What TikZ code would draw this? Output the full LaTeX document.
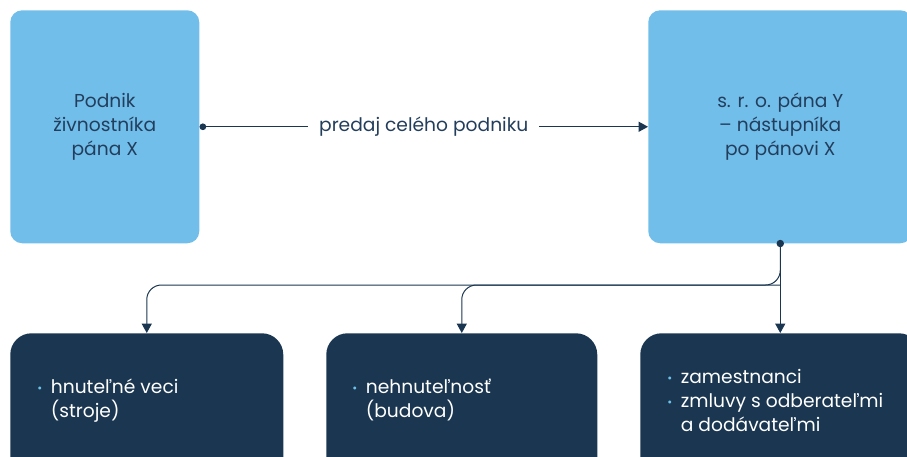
\documentclass[tikz,border=0pt]{standalone}
\usepackage{fontspec}
\setmainfont{Poppins}
\usetikzlibrary{arrows.meta,calc}
\definecolor{lblue}{HTML}{71BEEA}
\definecolor{navy}{HTML}{1A3650}
\definecolor{tnavy}{HTML}{233E5C}
\definecolor{bul}{HTML}{6EC1EA}
\tikzset{
  lbox/.style={draw=none,fill=lblue,rounded corners=9pt,anchor=north west,inner sep=0pt,
    text=tnavy,align=center,font=\fontsize{14}{18}\selectfont},
  dbox/.style={draw=none,fill=navy,rounded corners=16pt,anchor=north west,inner sep=0pt},
  btxt/.style={text=white,anchor=north west,inner sep=0pt,font=\fontsize{14}{18}\selectfont},
  conn/.style={draw=navy,line width=0.75pt},
  tip/.style={-{Triangle[width=7.5pt,length=7pt]}},
}
\newcommand{\bl}{\raisebox{0.6pt}{\textcolor{bul}{\small\textbullet}}}
\begin{document}
\begin{tikzpicture}[x=0.75pt,y=-0.75pt]
\useasboundingbox (0,0) rectangle (907,457);
\clip (0,0) rectangle (907,457);
% top boxes
\node[lbox,minimum width={189*0.75pt},minimum height={233*0.75pt}] (L) at (10,10)
  {Podnik\\živnostníka\\pána X};
\node[lbox,minimum width={264*0.75pt},minimum height={233*0.75pt}] (R) at (648,10)
  {s. r. o. pána Y\\– nástupníka\\po pánovi X};
% bottom boxes
\node[dbox,minimum width={273*0.75pt},minimum height={150*0.75pt}] (B1) at (10,333) {};
\node[dbox,minimum width={271*0.75pt},minimum height={150*0.75pt}] (B2) at (326,333) {};
\node[dbox,minimum width={280*0.75pt},minimum height={150*0.75pt}] (B3) at (640,333) {};
% bottom texts
\node[btxt] (T1) at (37,376) {\begin{tabular}{@{}l@{\hspace{6.5pt}}l@{}}\bl & hnuteľné veci\\ & (stroje)\end{tabular}};
\node[btxt] (T2) at (352,376) {\begin{tabular}{@{}l@{\hspace{6.5pt}}l@{}}\bl & nehnuteľnosť\\ & (budova)\end{tabular}};
\node[btxt] (T3) at (667,366) {\begin{tabular}{@{}l@{\hspace{6.5pt}}l@{}}\bl & zamestnanci\\ \bl & zmluvy s odberateľmi\\ & a dodávateľmi\end{tabular}};
% top connector
\draw[conn,{Circle[length=5pt]}-{Triangle[width=7.5pt,length=7pt]}] (L.east) -- node[fill=white,text=tnavy,inner xsep=8pt,font=\fontsize{14}{18}\selectfont] (lab) {predaj celého podniku} (R.west);
% branches
\coordinate (J) at (780,285);
\fill[navy] (R.south) circle (2.8pt);
\draw[conn,tip] (R.south) -- (B3.north);
\draw[conn,tip,rounded corners=11pt] (R.south) -- (R.south |- J) -- (J -| B1.north) -- (B1.north);
\draw[conn,tip,rounded corners=11pt] (R.south |- J) -- (J -| B2.north) -- (B2.north);
\end{tikzpicture}
\end{document}
